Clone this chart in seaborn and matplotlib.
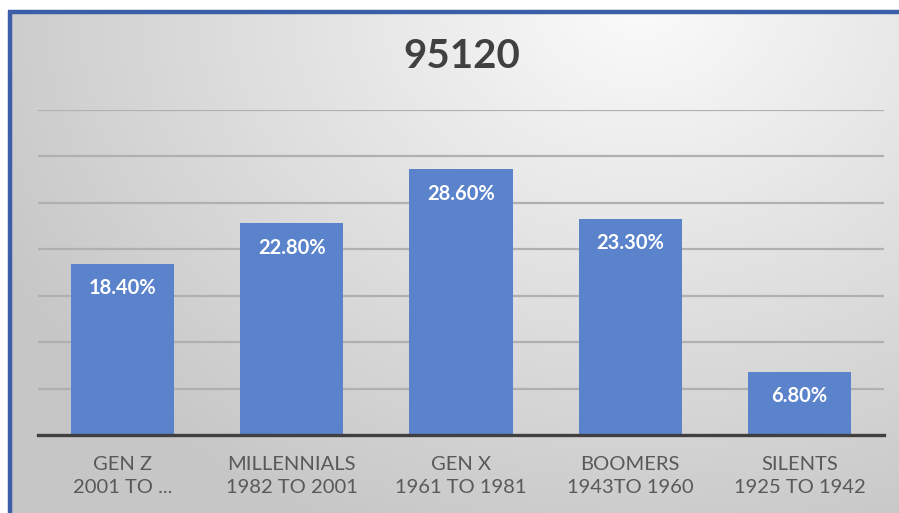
import numpy as np
import pandas as pd
import matplotlib
matplotlib.use("Agg")
import matplotlib.pyplot as plt
import seaborn as sns

# chart data
generations = ["GEN Z\n2001 TO ...", "MILLENNIALS\n1982 TO 2001", "GEN X\n1961 TO 1981",
               "BOOMERS\n1943TO 1960", "SILENTS\n1925 TO 1942"]
shares = [18.4, 22.8, 28.6, 23.3, 6.8]
title = "95120"

df = pd.DataFrame({"generation": generations, "share": shares})

sns.set_theme(style="white")
plt.rcParams["font.family"] = ["Lato", "DejaVu Sans"]

fig = plt.figure(figsize=(8.99, 5.13), dpi=100)

# background: soft radial gradient inside a blue frame (left + top edges)
W, H = 899, 513
bg = fig.add_axes([0, 0, 1, 1], zorder=0)
yy, xx = np.mgrid[0:H, 0:W]
r = np.sqrt(((xx - 640) / 700.0) ** 2 + ((yy - 0) / 560.0) ** 2)
g = np.clip(0.985 - 0.20 * r, 0.78, 1.0)
img = np.dstack([g, g, g])
img[:13, :, :] = 1.0
img[:, :10, :] = 1.0
bg.imshow(img, extent=[0, W, H, 0], aspect="auto")
bg.plot([9.5, 9.5], [11, H], color="#3b5ea6", lw=3.2, solid_capstyle="butt")
bg.plot([8, W], [11.5, 11.5], color="#3b5ea6", lw=3.2, solid_capstyle="butt")
bg.set_xlim(0, W)
bg.set_ylim(H, 0)
bg.axis("off")

ax = fig.add_axes([38 / W, 1 - 435 / H, 846 / W, 325 / H], zorder=1)
ax.patch.set_alpha(0)

sns.barplot(data=df, x="generation", y="share", color="#5b83cc", width=0.61,
            saturation=1, linewidth=0, ax=ax, zorder=3)

ax.set_ylim(0, 35)
ax.set_xlim(-0.5, 4.5)
ax.set_yticks(np.arange(5, 36, 5))
ax.yaxis.grid(True, color="#b0b0b0", lw=1.6, zorder=0)
ax.set_yticklabels([])
ax.tick_params(axis="y", length=0)
ax.tick_params(axis="x", length=0, pad=15, labelsize=14.5, labelcolor="#595959")
for lbl in ax.get_xticklabels():
    lbl.set_linespacing(1.45)

for s in ["top", "right", "left"]:
    ax.spines[s].set_visible(False)
ax.spines["bottom"].set_color("#404040")
ax.spines["bottom"].set_linewidth(2.4)
ax.spines["bottom"].set_zorder(4)

ax.set_xlabel("")
ax.set_ylabel("")

for bar, v in zip(ax.patches, shares):
    ax.annotate(f"{v:.2f}%", (bar.get_x() + bar.get_width() / 2, bar.get_height()),
                xytext=(0, -17.5), textcoords="offset points", ha="center", va="center",
                color="white", fontsize=14.5, fontweight="bold", zorder=5)

fig.text(462 / W, 1 - 57 / H, title, ha="center", va="center",
         fontsize=29, fontweight="bold", color="#404040")

fig.savefig("out.png", dpi=100)
